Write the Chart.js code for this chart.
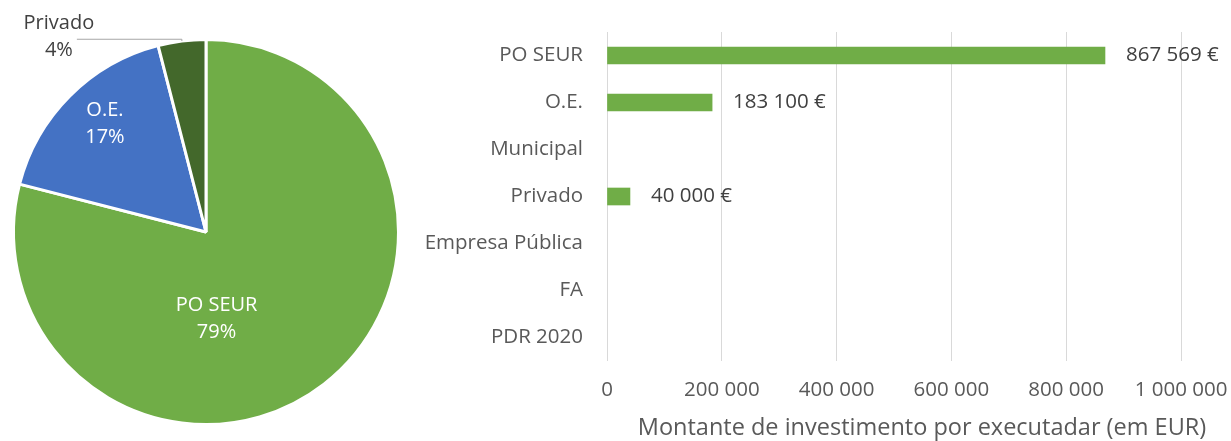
<!DOCTYPE html>
<html>
<head>
<meta charset="utf-8">
<script src="https://cdn.jsdelivr.net/npm/chart.js@4"></script>
<style>
  body { margin: 0; background: #fff; }
  #pieBox { position: absolute; left: 0; top: 0; width: 412px; height: 441px; }
  #barBox { position: absolute; left: 420px; top: 0; width: 811px; height: 441px; }
</style>
</head>
<body>
<div id="pieBox"><canvas id="pie"></canvas></div>
<div id="barBox"><canvas id="bar"></canvas></div>
<script>
// data
const pieLabels = ['PO SEUR', 'O.E.', 'Privado'];
const pieShares = [79, 17, 4];

const barLabels = ['PO SEUR', 'O.E.', 'Municipal', 'Privado', 'Empresa Pública', 'FA', 'PDR 2020'];
const barValues = [867569, 183100, 0, 40000, 0, 0, 0];

const xTicks = [0, 200000, 400000, 600000, 800000, 1000000];
const xTitle = 'Montante de investimento por executadar (em EUR)';

const FONT = "'Open Sans', sans-serif";

function fmt(n) {
  return String(n).replace(/\B(?=(\d{3})+(?!\d))/g, ' ');
}

// where each pie label sits: fraction of radius, angle (deg clockwise from top)
const pieLabelPos = [
  { r: 0.45, a: 173, color: '#fff' },
  { r: 0.77, a: -43, color: '#fff' },
  { r: 1.27, a: -37, color: '#404040', leader: true }
];

const pieLabelPlugin = {
  id: 'pieLabels',
  afterDatasetsDraw(chart) {
    const ctx = chart.ctx;
    const meta = chart.getDatasetMeta(0);
    ctx.save();
    ctx.font = '20px ' + FONT;
    ctx.textAlign = 'center';
    ctx.textBaseline = 'middle';
    meta.data.forEach(function(arc, i) {
      const p = pieLabelPos[i];
      const cx = arc.x, cy = arc.y, R = arc.outerRadius;
      const a = p.a * Math.PI / 180;
      const x = cx + Math.sin(a) * R * p.r;
      const y = cy - Math.cos(a) * R * p.r;
      if (p.leader) {
        const mid = (arc.startAngle + arc.endAngle) / 2;
        const ex = cx + Math.cos(mid) * R;
        const ey = cy + Math.sin(mid) * R;
        ctx.strokeStyle = '#a6a6a6';
        ctx.lineWidth = 1;
        ctx.beginPath();
        ctx.moveTo(x + 18, y + 2.5);
        ctx.lineTo(ex, y + 2.5);
        ctx.lineTo(ex, ey);
        ctx.stroke();
      }
      ctx.fillStyle = p.color;
      ctx.fillText(pieLabels[i], x, y - 13);
      ctx.fillText(pieShares[i] + '%', x, y + 14);
    });
    ctx.restore();
  }
};

new Chart(document.getElementById('pie'), {
  type: 'pie',
  data: {
    labels: pieLabels,
    datasets: [{
      data: pieShares,
      backgroundColor: ['#70ad47', '#4472c4', '#43682b'],
      borderColor: '#fff',
      borderWidth: 3
    }]
  },
  options: {
    responsive: true,
    maintainAspectRatio: false,
    animation: false,
    layout: { padding: { top: 38, bottom: 15, left: 12, right: 12 } },
    plugins: { legend: { display: false }, tooltip: { enabled: false } }
  },
  plugins: [pieLabelPlugin]
});

const barLabelPlugin = {
  id: 'barLabels',
  afterDatasetsDraw(chart) {
    const ctx = chart.ctx;
    const meta = chart.getDatasetMeta(0);
    ctx.save();
    ctx.font = '20.5px ' + FONT;
    ctx.fillStyle = '#404040';
    ctx.textAlign = 'left';
    ctx.textBaseline = 'middle';
    meta.data.forEach(function(bar, i) {
      if (!barValues[i]) return;
      ctx.fillText(fmt(barValues[i]) + ' €', bar.x + 21, bar.y);
    });
    const area = chart.chartArea;
    ctx.fillStyle = '#595959';
    ctx.font = '23.5px ' + FONT;
    ctx.textAlign = 'center';
    ctx.fillText(xTitle, (area.left + area.right) / 2 + 28, 428);
    ctx.restore();
  }
};

new Chart(document.getElementById('bar'), {
  type: 'bar',
  data: {
    labels: barLabels,
    datasets: [{
      data: barValues,
      backgroundColor: c => (c.raw ? '#70ad47' : 'rgba(0,0,0,0)'),
      barThickness: 17
    }]
  },
  options: {
    indexAxis: 'y',
    responsive: true,
    maintainAspectRatio: false,
    animation: false,
    layout: { padding: { top: 32, right: 50, left: 0, bottom: 0 } },
    plugins: { legend: { display: false }, tooltip: { enabled: false } },
    scales: {
      x: {
        min: 0,
        max: 1000000,
        afterBuildTicks(scale) { scale.ticks = xTicks.map(v => ({ value: v })); },
        afterFit(scale) {
          scale.height = 80;
          scale.paddingLeft = 0;
          scale.paddingRight = 0;
        },
        grid: { color: '#d9d9d9', drawTicks: false },
        border: { display: false },
        ticks: {
          padding: 17,
          color: '#595959',
          font: { family: FONT, size: 20.5 },
          callback: v => fmt(v)
        }
      },
      y: {
        afterFit(scale) {
          scale.width = 187;
          scale.paddingTop = 0;
          scale.paddingBottom = 0;
        },
        grid: { display: false, drawTicks: false },
        border: { display: false },
        ticks: {
          padding: 24,
          color: '#595959',
          font: { family: FONT, size: 20.5 }
        }
      }
    }
  },
  plugins: [barLabelPlugin]
});
</script>
</body>
</html>
